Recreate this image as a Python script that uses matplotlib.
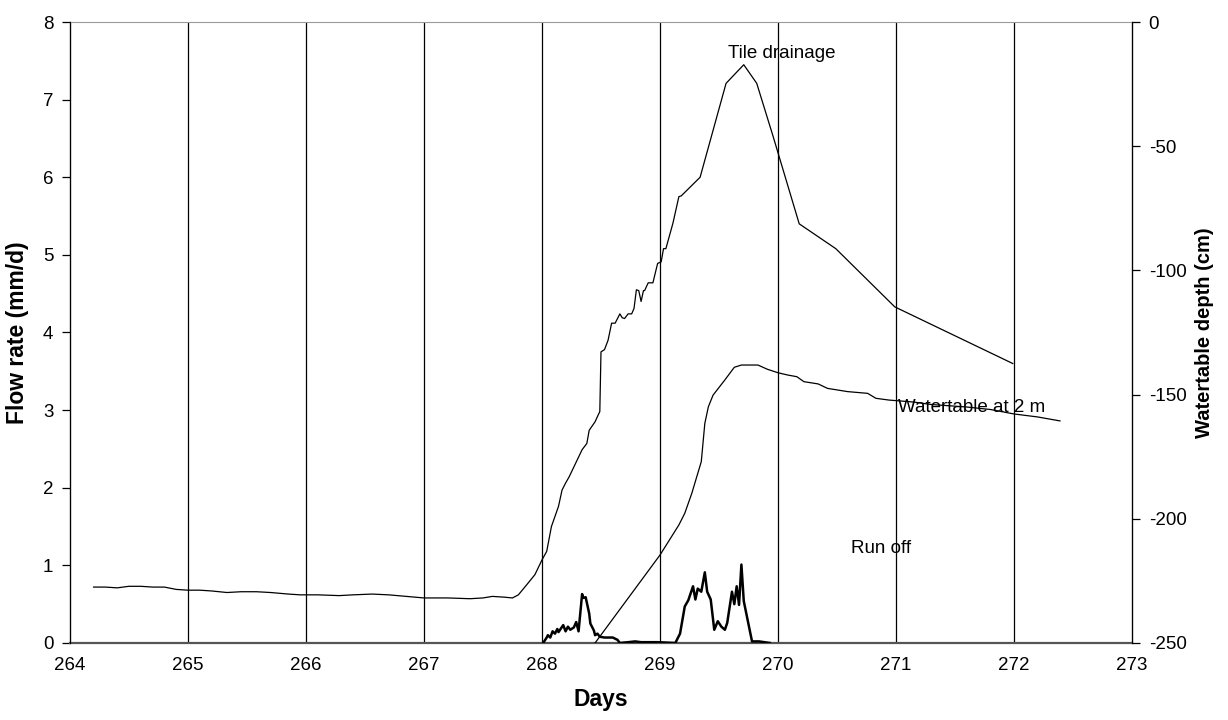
import numpy as np
import matplotlib.pyplot as plt

plt.rcParams['font.family'] = ['Liberation Sans', 'DejaVu Sans']
plt.rcParams['axes.unicode_minus'] = False

# tile drainage, flow rate (mm/d)
tile_days = [264.2, 264.3, 264.4, 264.5, 264.6, 264.7, 264.8, 264.9, 265.0, 265.1,
             265.2, 265.33, 265.45, 265.58, 265.7, 265.85, 265.95, 266.1, 266.28, 266.4,
             266.56, 266.7, 266.85, 267.0, 267.2, 267.39, 267.5, 267.58, 267.68, 267.75,
             267.8, 267.86, 267.94, 268.0, 268.04, 268.08, 268.14, 268.17, 268.2, 268.23,
             268.34, 268.38, 268.4, 268.45, 268.48, 268.49, 268.5, 268.53, 268.56, 268.59,
             268.62, 268.66, 268.68, 268.7, 268.73, 268.76, 268.78, 268.8, 268.82, 268.84,
             268.86, 268.87, 268.9, 268.94, 268.98, 269.01, 269.03, 269.05, 269.11, 269.16,
             269.18, 269.34, 269.56, 269.71, 269.82, 269.96, 270.18, 270.49, 270.99, 271.99]
tile_flow = [0.72, 0.72, 0.71, 0.73, 0.73, 0.72, 0.72, 0.69, 0.68, 0.68,
             0.67, 0.65, 0.66, 0.66, 0.65, 0.63, 0.62, 0.62, 0.61, 0.62,
             0.63, 0.62, 0.60, 0.58, 0.58, 0.57, 0.58, 0.60, 0.59, 0.58,
             0.62, 0.73, 0.88, 1.07, 1.18, 1.50, 1.76, 1.97, 2.06, 2.14,
             2.49, 2.57, 2.74, 2.85, 2.95, 2.98, 3.75, 3.78, 3.90, 4.12,
             4.12, 4.24, 4.19, 4.18, 4.24, 4.24, 4.31, 4.55, 4.54, 4.40,
             4.54, 4.54, 4.64, 4.64, 4.89, 4.91, 5.08, 5.08, 5.41, 5.75,
             5.76, 6.00, 7.21, 7.45, 7.21, 6.52, 5.40, 5.08, 4.33, 3.60]

# run off, flow rate (mm/d)
run_days = [268.01, 268.04, 268.05, 268.07, 268.09, 268.11, 268.13, 268.14, 268.18, 268.2,
            268.22, 268.24, 268.27, 268.29, 268.31, 268.34, 268.35, 268.37, 268.4, 268.41,
            268.44, 268.45, 268.47, 268.49, 268.53, 268.6, 268.64, 268.66, 268.73, 268.79,
            268.84, 268.98, 269.13, 269.17, 269.21, 269.24, 269.28, 269.3, 269.32, 269.35,
            269.38, 269.4, 269.43, 269.46, 269.49, 269.52, 269.55, 269.57, 269.61, 269.63,
            269.65, 269.67, 269.69, 269.71, 269.78, 269.84, 269.93]
run_flow = [0.0, 0.07, 0.10, 0.07, 0.15, 0.12, 0.18, 0.14, 0.23, 0.15,
            0.21, 0.17, 0.20, 0.27, 0.15, 0.63, 0.58, 0.59, 0.38, 0.25,
            0.16, 0.10, 0.12, 0.08, 0.07, 0.07, 0.04, 0.0, 0.01, 0.02,
            0.01, 0.01, 0.0, 0.12, 0.47, 0.55, 0.73, 0.56, 0.70, 0.66,
            0.91, 0.66, 0.56, 0.17, 0.28, 0.21, 0.17, 0.26, 0.66, 0.50,
            0.73, 0.49, 1.01, 0.54, 0.02, 0.02, 0.0]

# watertable at 2 m, depth (cm)
wt_days = [268.45, 269.0, 269.16, 269.21, 269.27, 269.35, 269.38, 269.41, 269.45, 269.55,
           269.63, 269.69, 269.83, 269.91, 270.0, 270.08, 270.16, 270.22, 270.34, 270.42,
           270.59, 270.76, 270.83, 270.94, 271.15, 271.3, 271.45, 271.6, 271.8, 272.0,
           272.2, 272.39]
wt_depth = [-250, -214.6, -202.5, -197.8, -189.7, -177.0, -161.6, -154.9, -150.2, -144.1,
            -139.0, -138.1, -138.1, -139.8, -141.2, -142.1, -142.8, -144.8, -145.7, -147.5,
            -148.8, -149.5, -151.5, -152.2, -153.0, -154.0, -154.5, -155.0, -156.0, -157.8,
            -159.0, -160.6]

day_ticks = np.arange(264, 274)
grid_days = np.arange(265, 273)

fig, ax = plt.subplots(figsize=(12.28, 7.2), dpi=100)
fig.subplots_adjust(left=0.057, right=0.9218, top=0.9694, bottom=0.107)

for d in grid_days:
    ax.axvline(d, color='black', lw=0.9, zorder=1)

ax.plot(tile_days, tile_flow, color='black', lw=0.9, zorder=3)
ax.plot(run_days, run_flow, color='black', lw=1.8, zorder=3)

ax.set_xlim(264, 273)
ax.set_ylim(0, 8)
ax.set_xticks(day_ticks)
ax.set_yticks(np.arange(0, 9))
ax.tick_params(axis='x', length=0, pad=10, labelsize=13.5)
ax.tick_params(axis='y', direction='out', length=6, width=0.9, pad=6, labelsize=13.5)
ax.set_xlabel('Days', fontsize=16.5, fontweight='bold', labelpad=10)
ax.set_ylabel('Flow rate (mm/d)', fontsize=16.5, fontweight='bold', labelpad=10)

ax.spines['top'].set_color('#9a9a9a')
ax.spines['top'].set_linewidth(0.8)
ax.spines['bottom'].set_color('#555555')
ax.spines['bottom'].set_linewidth(1.6)
ax.spines['left'].set_linewidth(0.9)
ax.spines['right'].set_linewidth(0.9)

ax2 = ax.twinx()
ax2.plot(wt_days, wt_depth, color='black', lw=0.9, zorder=3)
ax2.set_ylim(-250, 0)
ax2.set_yticks(np.arange(-250, 1, 50))
ax2.tick_params(axis='y', direction='out', length=6, width=0.9, pad=6, labelsize=13.5)
ax2.set_ylabel('Watertable depth (cm)', fontsize=14.5, fontweight='bold', labelpad=6)
for s in ['top', 'bottom']:
    ax2.spines[s].set_visible(False)

ax.text(270.03, 7.6, 'Tile drainage', fontsize=13.5, ha='center', va='center', zorder=4)
ax.text(271.02, 3.03, 'Watertable at 2 m', fontsize=13.5, ha='left', va='center', zorder=4)
ax.text(270.62, 1.22, 'Run off', fontsize=13.5, ha='left', va='center', zorder=4)

fig.savefig('out.png', dpi=100)
